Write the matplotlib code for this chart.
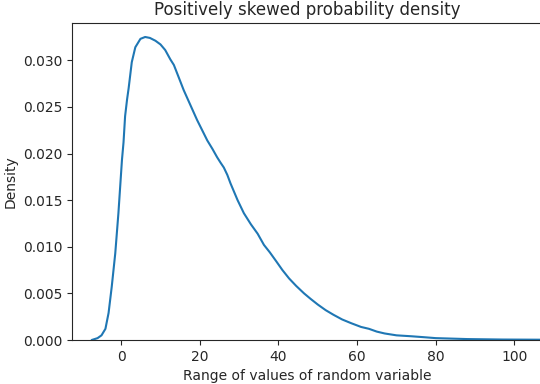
import numpy as np
import matplotlib
matplotlib.use("Agg")
import matplotlib.pyplot as plt
import seaborn as sns

# points
x_vals = [-7.5, -6.0, -5.0, -4.0, -3.2, -2.4, -1.5, -0.7, 0.2, 0.6, 1.0, 1.5,
          1.9, 2.7, 3.6, 4.9, 6.1, 7.3, 8.7, 10.0, 11.2, 12.5, 13.4, 14.7,
          15.9, 17.6, 19.3, 20.6, 21.9, 23.2, 24.4, 25.3, 26.1, 27.0, 27.8,
          28.7, 29.6, 30.4, 31.2, 33.0, 34.7, 36.3, 37.8, 39.5, 41.0, 42.7,
          44.5, 46.5, 48.2, 50.0, 52.0, 54.0, 56.2, 58.5, 61.0, 63.0, 65.0,
          67.0, 70.0, 73.8, 77.0, 80.0, 84.0, 88.0, 97.0, 107.5]
density = [0.0000, 0.0002, 0.0005, 0.0012, 0.0029, 0.0057, 0.0093, 0.0136,
           0.0193, 0.0212, 0.0240, 0.0258, 0.0270, 0.0298, 0.0314, 0.0323,
           0.0325, 0.0324, 0.0321, 0.0317, 0.0311, 0.0301, 0.0295, 0.0281,
           0.0268, 0.0252, 0.0236, 0.0225, 0.0214, 0.0205, 0.0196, 0.0190,
           0.0185, 0.0177, 0.0168, 0.0159, 0.0150, 0.0143, 0.0136, 0.0124,
           0.0114, 0.0102, 0.0094, 0.0084, 0.0075, 0.0066, 0.0058, 0.0050,
           0.0044, 0.0038, 0.0032, 0.0027, 0.0022, 0.0018, 0.0014, 0.0012,
           0.0009, 0.0007, 0.0005, 0.0004, 0.0003, 0.0002, 0.00015, 0.0001,
           0.00005, 0.00003]

sns.set_style("ticks")
plt.rcParams['font.family'] = ['DejaVu Sans']

fig = plt.figure(figsize=(5.4, 3.84), dpi=100)
ax = fig.add_axes([72/540, 44/384, 470/540, 317/384])

ax.plot(x_vals, density, color="#1f77b4", lw=1.5)

ax.set_xlim(-12.5, 107)
ax.set_ylim(0, 0.034)
ax.set_xticks([0, 20, 40, 60, 80, 100])
ax.set_yticks([0, 0.005, 0.010, 0.015, 0.020, 0.025, 0.030])
ax.yaxis.set_major_formatter(matplotlib.ticker.FormatStrFormatter('%.3f'))

ax.set_title("Positively skewed probability density", fontsize=12)
ax.set_xlabel("Range of values of random variable")
ax.set_ylabel("Density")

fig.savefig("out.png", dpi=100)
